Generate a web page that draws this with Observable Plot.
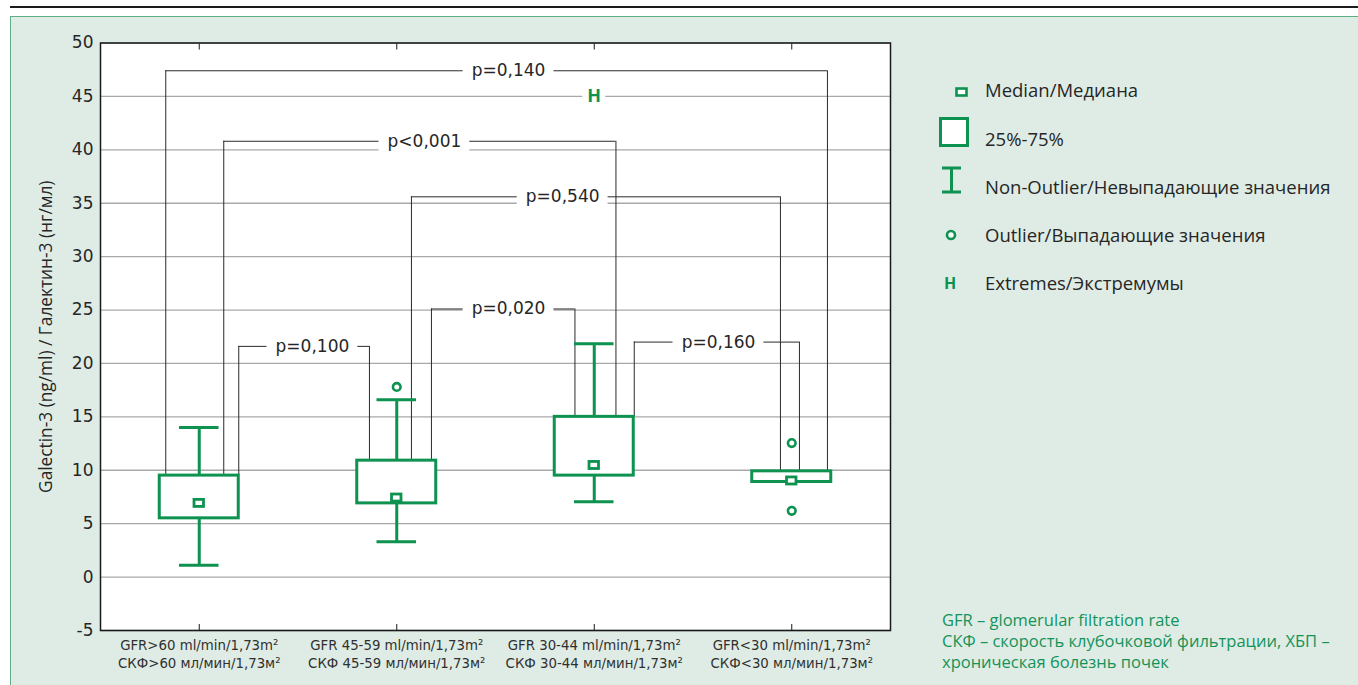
<!DOCTYPE html>
<html>
<head>
<meta charset="utf-8">
<script src="https://cdn.jsdelivr.net/npm/d3@7"></script>
<script src="https://cdn.jsdelivr.net/npm/@observablehq/plot@0.6"></script>
<style>
  html, body { margin: 0; padding: 0; width: 1358px; height: 685px; overflow: hidden; background: #ffffff; }
  #rule { position: absolute; left: 10px; top: 6px; width: 1348px; height: 2px; background: #1c1c1c; }
  #panel { position: absolute; left: 10px; top: 16px; width: 1360px; height: 700px; background: #dfece5;
           border-left: 1.5px solid #5fae84; border-top: 1.5px solid #5fae84; }
  #chart { position: absolute; left: 0; top: 0; }
  .lg-icon { position: absolute; }
  .lg-text { position: absolute; left: 985px; font-family: "Open Sans", sans-serif; font-size: 18.5px;
             line-height: 24px; color: #262626; white-space: nowrap; }
  #note { position: absolute; left: 942px; top: 609px; font-family: "Open Sans", sans-serif; font-size: 16.5px;
          line-height: 21px; color: #13935a; white-space: nowrap; }
</style>
</head>
<body>
<div id="rule"></div>
<div id="panel"></div>
<div id="chart"></div>

<!-- legend -->
<svg class="lg-icon" style="left:950px;top:84px" width="24" height="20">
  <rect x="6.5" y="4.5" width="10" height="7" fill="#fff" stroke="#0d924f" stroke-width="2.6"/>
</svg>
<svg class="lg-icon" style="left:934px;top:112px" width="40" height="40">
  <rect x="6.5" y="6.5" width="27" height="27" fill="#fff" stroke="#0d924f" stroke-width="3"/>
</svg>
<svg class="lg-icon" style="left:936px;top:162px" width="32" height="36">
  <line x1="6" y1="6" x2="25" y2="6" stroke="#0d924f" stroke-width="3"/>
  <line x1="15.5" y1="6" x2="15.5" y2="30" stroke="#0d924f" stroke-width="3"/>
  <line x1="6" y1="30" x2="25" y2="30" stroke="#0d924f" stroke-width="3"/>
</svg>
<svg class="lg-icon" style="left:940px;top:224px" width="22" height="22">
  <circle cx="11" cy="11" r="4" fill="#fff" stroke="#0d924f" stroke-width="2.6"/>
</svg>
<div class="lg-text" style="left:944px;top:271px;color:#0d924f;font-weight:700;font-size:16px">H</div>

<div class="lg-text" style="top:78px">Median/Медиана</div>
<div class="lg-text" style="top:127px">25%-75%</div>
<div class="lg-text" style="top:175px">Non-Outlier/Невыпадающие значения</div>
<div class="lg-text" style="top:223px">Outlier/Выпадающие значения</div>
<div class="lg-text" style="top:271px">Extremes/Экстремумы</div>

<div id="note">GFR – glomerular filtration rate<br>СКФ – скорость клубочковой фильтрации, ХБП –<br>хроническая болезнь почек</div>

<script>
// Galectin-3 by GFR group: box summaries
const groups = [1, 2, 3, 4];
const groupLabels = [
  "GFR>60 ml/min/1,73m²\nСКФ>60 мл/мин/1,73м²",
  "GFR 45-59 ml/min/1,73m²\nСКФ 45-59 мл/мин/1,73м²",
  "GFR 30-44 ml/min/1,73m²\nСКФ 30-44 мл/мин/1,73м²",
  "GFR<30 ml/min/1,73m²\nСКФ<30 мл/мин/1,73м²"
];
const medians = [6.9, 7.4, 10.45, 9.0];
const q1 = [5.5, 6.9, 9.5, 8.9];
const q3 = [9.5, 10.9, 15.0, 9.9];
const nonOutlierMin = [1.1, 3.3, 7.05, 8.9];
const nonOutlierMax = [14.0, 16.6, 21.85, 9.9];

const outlierGroup = [2, 4, 4];
const outlierValue = [17.8, 12.55, 6.2];
const extremeGroup = [3];
const extremeValue = [45.0];

// pairwise comparisons
const pLabels = ["p=0,140", "p<0,001", "p=0,540", "p=0,020", "p=0,100", "p=0,160"];
const pFrom = [1, 1, 2, 2, 1, 3];
const pTo = [4, 3, 4, 3, 2, 4];
const pLevel = [47.4, 40.8, 35.6, 25.1, 21.6, 22.0];

const yTicks = d3.range(-5, 51, 5);

// layout: bracket leg offsets (px from group centre) and label centres (x units)
const legFromPx = [-33.5, 24.5, 14.7, 34.7, 39.5, 40];
const legToPx = [35.7, 21.7, -11.3, -19.3, -27.3, 7.7];
const labelAt = [2.566, 2.14, 2.84, 2.566, 1.573, 3.629];

const W = 920, H = 685, ML = 100, MR = 30, MT = 42.5, MB = 55;
const unit = (W - ML - MR) / 4;
const green = "#0d924f";

const boxes = groups.map((g, i) => ({g, lo: q1[i], hi: q3[i], med: medians[i], wmin: nonOutlierMin[i], wmax: nonOutlierMax[i]}));
const outliers = outlierGroup.map((g, i) => ({g, v: outlierValue[i]}));
const extremes = extremeGroup.map((g, i) => ({g, v: extremeValue[i]}));
const brackets = pLabels.map((label, i) => ({
  label,
  level: pLevel[i],
  xa: pFrom[i] + legFromPx[i] / unit,
  xb: pTo[i] + legToPx[i] / unit,
  ya: q3[pFrom[i] - 1],
  yb: q3[pTo[i] - 1],
  lx: labelAt[i]
}));
const whiskers = boxes.filter(d => d.wmax > d.hi || d.wmin < d.lo);

const chart = Plot.plot({
  width: W,
  height: H,
  marginLeft: ML,
  marginRight: MR,
  marginTop: MT,
  marginBottom: MB,
  style: {background: "transparent", fontFamily: "DejaVu Sans", fontSize: "16px", color: "#222"},
  x: {domain: [0.5, 4.5], axis: null},
  y: {domain: [-5, 50], axis: null},
  marks: [
    Plot.frame({fill: "white"}),
    Plot.gridY(yTicks, {stroke: "#a9a9a9", strokeOpacity: 1, strokeWidth: 1.3}),

    // comparison brackets
    Plot.ruleY(brackets, {y: "level", x1: "xa", x2: "xb", stroke: "#2a2a2a", strokeWidth: 1}),
    Plot.ruleX(brackets, {x: "xa", y1: "level", y2: "ya", stroke: "#2a2a2a", strokeWidth: 1}),
    Plot.ruleX(brackets, {x: "xb", y1: "level", y2: "yb", stroke: "#2a2a2a", strokeWidth: 1}),
    Plot.rect(brackets, {x1: d => d.lx - 0.23, x2: d => d.lx + 0.23, y1: d => d.level - 0.95, y2: d => d.level + 0.95, fill: "white"}),
    Plot.text(brackets, {x: "lx", y: "level", text: "label", fontFamily: "DejaVu Sans", fontSize: 17, fill: "#262626"}),

    // whiskers
    Plot.ruleX(whiskers, {x: "g", y1: "hi", y2: "wmax", stroke: green, strokeWidth: 3}),
    Plot.ruleX(whiskers, {x: "g", y1: "lo", y2: "wmin", stroke: green, strokeWidth: 3}),
    Plot.ruleY(whiskers, {y: "wmax", x1: d => d.g - 0.1, x2: d => d.g + 0.1, stroke: green, strokeWidth: 3}),
    Plot.ruleY(whiskers, {y: "wmin", x1: d => d.g - 0.1, x2: d => d.g + 0.1, stroke: green, strokeWidth: 3}),

    // interquartile boxes and medians
    Plot.rect(boxes, {x1: d => d.g - 0.2, x2: d => d.g + 0.2, y1: "lo", y2: "hi", fill: "white", stroke: green, strokeWidth: 3}),
    Plot.rect(boxes, {x1: d => d.g - 0.024, x2: d => d.g + 0.024, y1: d => d.med - 0.33, y2: d => d.med + 0.33, fill: "white", stroke: green, strokeWidth: 2.8}),

    // outliers and extremes
    Plot.dot(outliers, {x: "g", y: "v", r: 3.8, fill: "white", stroke: green, strokeWidth: 2.6}),
    Plot.rect(extremes, {x1: d => d.g - 0.058, x2: d => d.g + 0.058, y1: d => d.v - 0.95, y2: d => d.v + 0.95, fill: "white"}),
    Plot.text(extremes, {x: "g", y: "v", text: () => "H", fill: green, fontWeight: "bold", fontFamily: "Open Sans", fontSize: 18}),

    Plot.frame({stroke: "#1a1a1a", strokeWidth: 1.5}),

    // axes
    Plot.axisY(yTicks, {anchor: "left", tickSize: 0, tickPadding: 7, tickFormat: d => String(d), fontSize: 17, fontFamily: "DejaVu Sans", fill: "#262626", label: null}),
    Plot.axisX(groups, {anchor: "bottom", tickSize: -6, tickFormat: () => "", stroke: "#1a1a1a", label: null}),
    Plot.axisX(groups, {anchor: "top", tickSize: -6, tickFormat: () => "", stroke: "#1a1a1a", label: null}),
    Plot.axisX(groups, {anchor: "bottom", tickSize: 0, tickPadding: 7, tickFormat: d => groupLabels[d - 1], fontSize: 14.8, lineHeight: 1.22, fontFamily: "'DejaVu Sans Condensed', 'Liberation Sans Narrow', sans-serif", fill: "#303030", label: null}),
    Plot.text(["Galectin-3 (ng/ml) / Галектин-3 (нг/мл)"], {frameAnchor: "left", textAnchor: "middle", rotate: -90, dx: -54, fontFamily: "Open Sans", fontSize: 17.3, fill: "#262626"})
  ]
});
document.getElementById("chart").appendChild(chart);
</script>
</body>
</html>
